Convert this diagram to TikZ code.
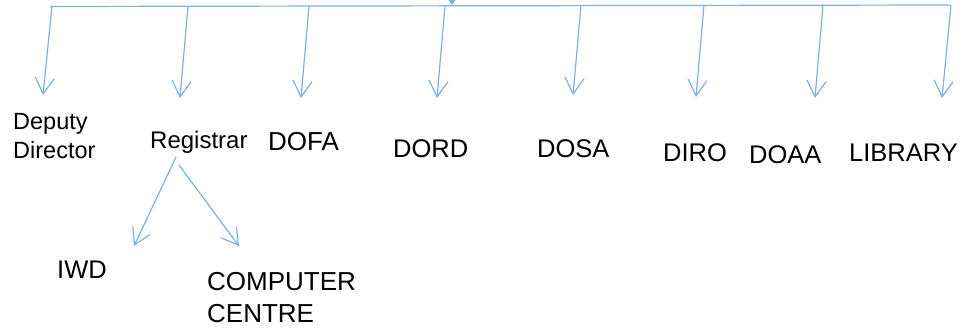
\documentclass[tikz,border=0pt]{standalone}
\usepackage{fontspec}
\setmainfont{Liberation Sans}
\usetikzlibrary{arrows.meta}
\definecolor{linkblue}{RGB}{125,175,235}
\tikzset{
  lbl/.style={anchor=base west, inner sep=0pt, font=\fontsize{25.5}{30}\selectfont},
  link/.style={line width=1.2pt, draw=linkblue, -{Straight Barb[length=16pt,width=19pt]}}
}
\begin{document}
\begin{tikzpicture}[x=1pt, y=-1pt]
\useasboundingbox (0,0) rectangle (965,329);
% bus line and the arrow coming in from above
\coordinate (busL) at (50,6.5);
\coordinate (busR) at (950,5);
\coordinate (in) at (452,-3);
\coordinate (inEnd) at (452,5);
\draw[linkblue, line width=1.2pt] (busL) -- (busR);
\draw[linkblue, line width=1.2pt, -{Triangle[length=5pt,width=7pt]}] (in) -- (inEnd);
% drop points on the bus and arrow tips
\coordinate (b1) at (52,6); \coordinate (t1) at (43,95);
\coordinate (b2) at (188,6); \coordinate (t2) at (180,98);
\coordinate (b3) at (309,6); \coordinate (t3) at (301,98);
\coordinate (b4) at (445,6); \coordinate (t4) at (437,98);
\coordinate (b5) at (581,5); \coordinate (t5) at (573,95);
\coordinate (b6) at (704,5); \coordinate (t6) at (696,97);
\coordinate (b7) at (823,5); \coordinate (t7) at (815,98);
\coordinate (b8) at (951,5); \coordinate (t8) at (942,98);
% labels
\node[lbl, align=left, font=\fontsize{23.5}{29}\selectfont] (deputy) at (13,158) {Deputy\\Director};
\node[lbl, font=\fontsize{24}{29}\selectfont] (registrar) at (150,148) {Registrar};
\node[lbl, font=\fontsize{26}{30}\selectfont] (dofa) at (268,150) {DOFA};
\node[lbl] (dord) at (393,157) {DORD};
\node[lbl] (dosa) at (537,157) {DOSA};
\node[lbl] (diro) at (663,161) {DIRO};
\node[lbl] (doaa) at (749,163) {DOAA};
\node[lbl] (library) at (849,161) {LIBRARY};
\node[lbl] (iwd) at (57,278) {IWD};
\node[lbl, align=left, font=\fontsize{26}{32}\selectfont] (computer) at (207,322) {COMPUTER\\CENTRE};
% arrows from the bus
\draw [link] (b1) -- (t1);
\draw [link] (b2) -- (t2);
\draw [link] (b3) -- (t3);
\draw [link] (b4) -- (t4);
\draw [link] (b5) -- (t5);
\draw [link] (b6) -- (t6);
\draw [link] (b7) -- (t7);
\draw [link] (b8) -- (t8);
% registrar's branches
\coordinate (r1) at (176,157); \coordinate (iwdTip) at (134,246);
\coordinate (r2) at (179,165); \coordinate (ccTip) at (239,246);
\draw [link] (r1) -- (iwdTip);
\draw [link] (r2) -- (ccTip);
\end{tikzpicture}
\end{document}
